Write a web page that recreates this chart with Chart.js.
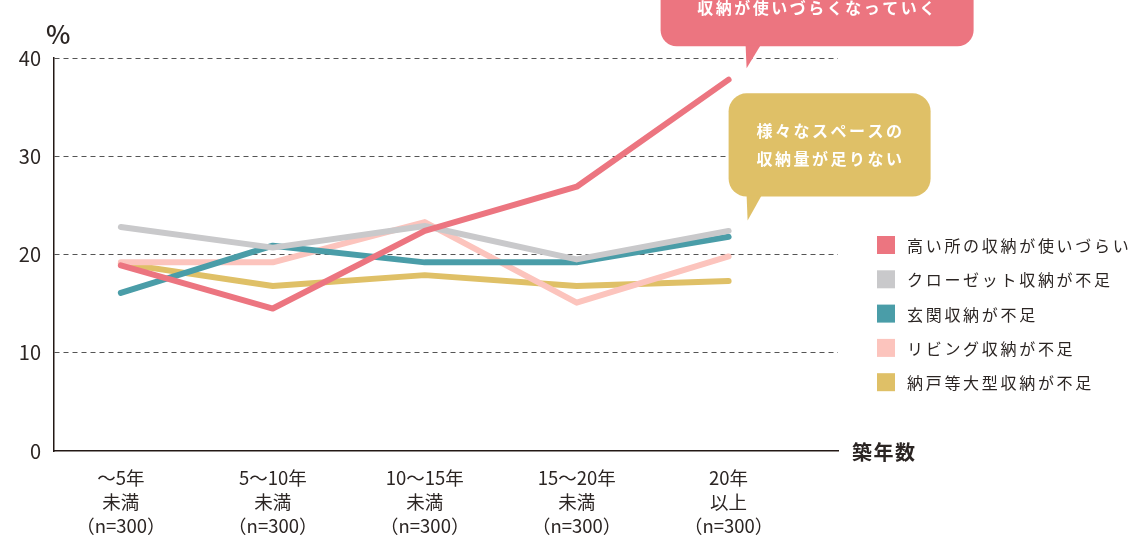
<!DOCTYPE html>
<html>
<head>
<meta charset="utf-8">
<script src="https://cdn.jsdelivr.net/npm/chart.js@4"></script>
<style>
  html, body { margin: 0; padding: 0; background: #fff; }
  #wrap { width: 1133px; height: 536px; }
</style>
</head>
<body>
<div id="wrap"><canvas id="storageChart"></canvas></div>
<script>
// 築年数カテゴリ（3行ラベル）
const periods = ["〜5年", "5〜10年", "10〜15年", "15〜20年", "20年"];
const suffixes = ["未満", "未満", "未満", "未満", "以上"];
const sampleSizes = ["（n=300）", "（n=300）", "（n=300）", "（n=300）", "（n=300）"];
const yTicks = [0, 10, 20, 30, 40];

// 系列
const seriesNames = [
  "高い所の収納が使いづらい",
  "クローゼット収納が不足",
  "玄関収納が不足",
  "リビング収納が不足",
  "納戸等大型収納が不足",
];
const highPlaces = [18.9, 14.5, 22.4, 26.9, 37.8];
const closet = [22.8, 20.7, 22.9, 19.5, 22.4];
const entrance = [16.1, 20.9, 19.2, 19.2, 21.8];
const living = [19.2, 19.2, 23.3, 15.1, 19.8];
const storeroom = [19.1, 16.8, 17.9, 16.8, 17.3];
const seriesColors = ["#EC7580", "#C9C9CB", "#4A9DA8", "#FCC4BD", "#DFC067"];

const FONT = "'Noto Sans CJK JP', 'Noto Sans', sans-serif";
const TEXT = "#2b2523";

const toPoints = (arr) => arr.map((v, i) => ({ x: i, y: v }));

// 吹き出し・凡例・単位を描くプラグイン
const decorations = {
  id: "decorations",
  afterDraw(chart) {
    const { ctx, chartArea, scales } = chart;
    const x = scales.x;
    const y = scales.y;
    const xLast = x.getPixelForValue(4);

    const bubble = (left, top, right, bottom, r, color, tail) => {
      ctx.save();
      ctx.fillStyle = color;
      ctx.beginPath();
      ctx.roundRect(left, top, right - left, bottom - top, r);
      ctx.fill();
      ctx.beginPath();
      ctx.moveTo(tail[0], bottom - 1);
      ctx.lineTo(tail[1], tail[2]);
      ctx.lineTo(tail[3], bottom - 1);
      ctx.closePath();
      ctx.fill();
      ctx.restore();
    };

    const label = (text, cx, cy) => {
      ctx.save();
      ctx.fillStyle = "#fff";
      ctx.font = "bold 16px " + FONT;
      ctx.letterSpacing = "2.5px";
      ctx.textAlign = "center";
      ctx.textBaseline = "middle";
      ctx.fillText(text, cx + 1, cy);
      ctx.restore();
    };

    // 赤い吹き出し
    const redBottom = y.getPixelForValue(41.2);
    bubble(xLast - 68, -30, xLast + 245, redBottom, 16, seriesColors[0],
      [xLast + 17, xLast + 18, redBottom + 22, xLast + 32]);
    label("収納が使いづらくなっていく", xLast + 88, 8);

    // 黄色い吹き出し
    const yTop = y.getPixelForValue(36.4);
    const yBottom = y.getPixelForValue(25.9);
    bubble(xLast, yTop, xLast + 202, yBottom, 18, seriesColors[4],
      [xLast + 18, xLast + 19, yBottom + 24, xLast + 33]);
    label("様々なスペースの", xLast + 101, yTop + 38);
    label("収納量が足りない", xLast + 101, yTop + 66);

    // 凡例
    ctx.save();
    ctx.font = "16px " + FONT;
    ctx.letterSpacing = "2.7px";
    ctx.textBaseline = "middle";
    ctx.textAlign = "left";
    seriesNames.forEach((name, i) => {
      const cy = 245 + i * 34.3;
      ctx.fillStyle = seriesColors[i];
      ctx.fillRect(877, cy - 9, 18, 18);
      ctx.fillStyle = TEXT;
      ctx.fillText(name, 907, cy + 1);
    });
    ctx.restore();

    // 単位と軸タイトル
    ctx.save();
    ctx.fillStyle = TEXT;
    ctx.textBaseline = "middle";
    ctx.font = "500 26px " + FONT;
    ctx.fillText("%", 46, 34);
    ctx.font = "bold 20px " + FONT;
    ctx.letterSpacing = "1.5px";
    ctx.fillText("築年数", chartArea.right + 14, chartArea.bottom + 1);
    ctx.restore();
  },
};

const lineSet = (i, data) => ({
  label: seriesNames[i],
  data: toPoints(data),
  borderColor: seriesColors[i],
  backgroundColor: seriesColors[i],
  borderWidth: 6,
  borderCapStyle: "round",
  borderJoinStyle: "round",
  pointRadius: 0,
  tension: 0,
});

const ctx = document.getElementById("storageChart").getContext("2d");
const storageChart = new Chart(ctx, {
  type: "line",
  data: {
    datasets: [
      lineSet(0, highPlaces),
      lineSet(1, closet),
      lineSet(2, entrance),
      lineSet(3, living),
      lineSet(4, storeroom),
    ],
  },
  options: {
    responsive: true,
    maintainAspectRatio: false,
    animation: false,
    layout: { padding: { top: 58, right: 295, left: 0, bottom: 0 } },
    plugins: {
      legend: { display: false },
      tooltip: { enabled: false },
    },
    scales: {
      x: {
        type: "linear",
        min: -0.44,
        max: 4.72,
        afterBuildTicks: (scale) => {
          scale.ticks = periods.map((_, i) => ({ value: i }));
        },
        afterFit: (scale) => {
          scale.height = 85;
        },
        grid: { display: false, drawTicks: false },
        border: { display: true, color: "#231815", width: 1.5 },
        ticks: {
          autoSkip: false,
          maxRotation: 0,
          padding: 15,
          color: TEXT,
          font: { family: FONT, size: 18.5, lineHeight: 1.3 },
          callback: (value) => [periods[value], suffixes[value], sampleSizes[value]],
        },
      },
      y: {
        min: 0,
        max: 40,
        afterBuildTicks: (scale) => {
          scale.ticks = yTicks.map((v) => ({ value: v }));
        },
        afterFit: (scale) => {
          scale.width = 54;
        },
        grid: {
          drawTicks: false,
          color: (c) => (c.tick && c.tick.value === 0 ? "rgba(0,0,0,0)" : "#555"),
          lineWidth: 1,
        },
        border: { display: true, color: "#231815", width: 1.5, dash: [5, 4] },
        ticks: {
          padding: 13,
          color: TEXT,
          font: { family: FONT, size: 20 },
        },
      },
    },
  },
  plugins: [decorations],
});
</script>
</body>
</html>
